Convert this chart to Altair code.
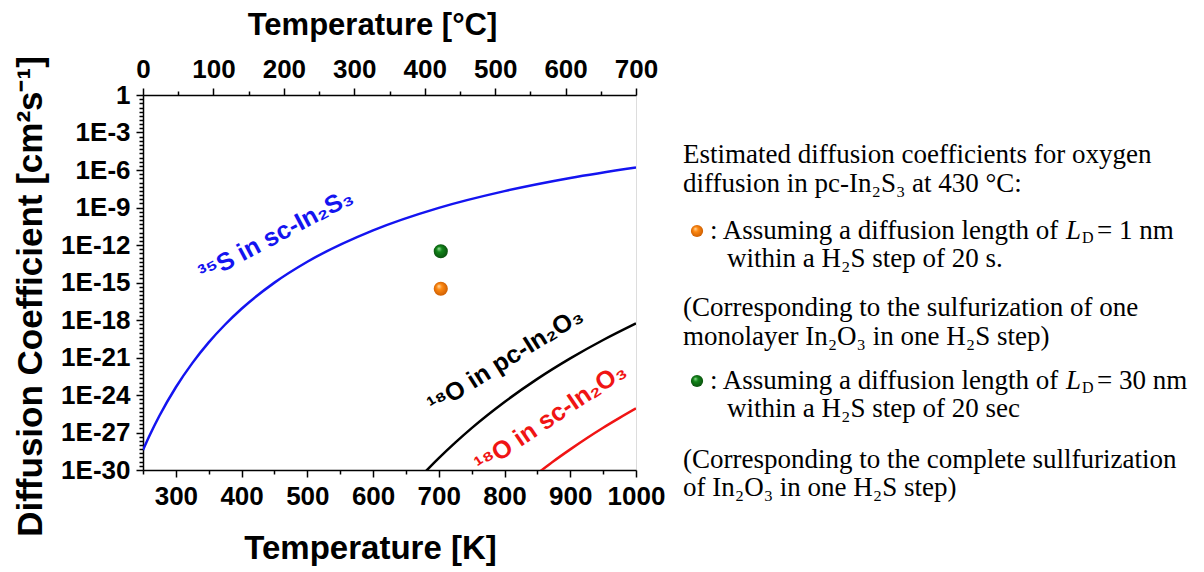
import altair as alt
import pandas as pd

# ---------------- data ----------------
blue_T = [250, 260, 275, 300, 325, 350, 375, 400, 450, 500, 600, 700, 800, 900, 1000]
blue_logD = [-28.40, -27.24, -25.66, -23.38, -21.45, -19.79, -18.36, -17.10, -15.01,
             -13.34, -10.83, -9.03, -7.69, -6.64, -5.80]

black_T = [675, 700, 725, 750, 800, 850, 900, 950, 1000]
black_logD = [-30.38, -29.05, -27.81, -26.65, -24.56, -22.71, -21.07, -19.60, -18.27]

red_T = [850, 875, 900, 925, 950, 975, 1000]
red_logD = [-30.28, -29.28, -28.35, -27.46, -26.62, -25.83, -25.07]

series_names = ["35S in sc-In2S3", "18O in pc-In2O3", "18O in sc-In2O3"]
series_colors = ["#1414f0", "#000000", "#f01414"]

point_T = [703, 703]
point_logD = [-12.5, -15.5]
point_names = ["LD = 30 nm", "LD = 1 nm"]

curve_labels = ["³⁵S in sc-In₂S₃", "¹⁸O in pc-In₂O₃", "¹⁸O in sc-In₂O₃"]
label_T = [452, 801, 870]
label_logD = [-11.2, -21.2, -25.8]
label_angles = [332, 328, 326]

K_ticks = list(range(250, 1001, 50))
C_ticks = list(range(0, 701, 50))          # top axis, spans the full plot width in the figure
C_range = [0, 700]
y_ticks = [10 ** (-k / 3) for k in range(0, 91)]

rows = []
for name, Ts, Ls in zip(series_names, [blue_T, black_T, red_T], [blue_logD, black_logD, red_logD]):
    for t, l in zip(Ts, Ls):
        rows.append({"T": t, "D": 10 ** l, "series": name})
curves = pd.DataFrame(rows)
points = pd.DataFrame({"T": point_T, "D": [10 ** v for v in point_logD], "name": point_names})
labels = pd.DataFrame({"T": label_T, "D": [10 ** v for v in label_logD], "text": curve_labels,
                       "series": series_names})

K_lo, K_hi = 250, 1000
# position of each Celsius tick on the shared x scale (the figure's top axis spans the same width)
C_pos = [K_lo + c * (K_hi - K_lo) / (C_range[1] - C_range[0]) for c in C_ticks]

SANS = "Liberation Sans"
SERIF = "Liberation Serif"

def sphere(c_light, c_main, c_dark):
    return alt.RadialGradient(gradient="radial", x1=0.35, y1=0.3, r1=0.0, x2=0.5, y2=0.5, r2=0.55,
                              stops=[alt.GradientStop(offset=0, color=c_light),
                                     alt.GradientStop(offset=0.35, color=c_main),
                                     alt.GradientStop(offset=1, color=c_dark)])

green_fill = sphere("#9fe39f", "#12861a", "#0a4d0d")
orange_fill = sphere("#ffe0b0", "#ff8a12", "#c95a00")

ylog = "log(datum.value)/LN10"
y_major = f"abs({ylog} - round({ylog})) < 0.01 && round({ylog}) % 3 == 0"
y_label = f"{y_major} ? (datum.value > 0.5 ? '1' : '1E' + round({ylog})) : ''"

cval = f"round((datum.value - {K_lo}) * {C_range[1] - C_range[0]} / {K_hi - K_lo})"
c_major = f"{cval} % 100 == 0"

axis_common = dict(domainColor="black", domainWidth=1.5, tickColor="black", tickWidth=1.5,
                   labelFont=SANS, labelFontWeight="bold", labelFontSize=26, labelColor="black",
                   titleFont=SANS, titleFontWeight="bold", titleColor="black",
                   labelOverlap=False, labelBound=False, grid=False, labelFlush=False)

x_scale = alt.Scale(domain=[K_lo, K_hi], nice=False, zero=False)
y_scale = alt.Scale(type="log", domain=[1e-30, 1], nice=False)

x_axis = alt.Axis(orient="bottom", values=K_ticks,
                  labelExpr="datum.value % 100 == 0 ? datum.value : ''",
                  tickSize={"condition": {"test": "datum.value % 100 == 0", "value": 7}, "value": 4},
                  labelPadding=6, title="Temperature [K]", titleFontSize=33,
                  titleX=227, titleY=78, titleBaseline="middle", titleAlign="center",
                  **axis_common)
x_top_axis = alt.Axis(orient="top", values=C_pos,
                      labelExpr=f"{c_major} ? {cval} : ''",
                      tickSize={"condition": {"test": c_major, "value": 7}, "value": 4},
                      labelPadding=6, title="Temperature [°C]", titleFontSize=31,
                      titleX=229, titleY=-70, titleBaseline="middle", titleAlign="center",
                      **axis_common)
y_axis = alt.Axis(orient="left", values=y_ticks, labelExpr=y_label,
                  tickSize={"condition": {"test": y_major, "value": 7}, "value": 4},
                  labelPadding=6, title="Diffusion Coefficient [cm²s⁻¹]", titleFontSize=35,
                  titleX=-113, titleY=201, titleBaseline="middle", titleAlign="center", titleAngle=270,
                  **axis_common)

color_scale = alt.Scale(domain=series_names, range=series_colors)

lines = alt.Chart(curves).mark_line(clip=True, strokeWidth=2.5, interpolate="monotone").encode(
    x=alt.X("T:Q", scale=x_scale, axis=x_axis),
    y=alt.Y("D:Q", scale=y_scale, axis=y_axis),
    color=alt.Color("series:N", scale=color_scale, legend=None),
    detail="series:N",
)

top_axis = alt.Chart(curves).mark_point(opacity=0).encode(
    x=alt.X("T:Q", scale=x_scale, axis=x_top_axis),
    y=alt.Y("D:Q", scale=y_scale),
)

green_pt = alt.Chart(points[points["name"] == "LD = 30 nm"]).mark_point(
    shape="circle", filled=True, size=200, fill=green_fill, opacity=1, strokeWidth=0).encode(
    x=alt.X("T:Q", scale=x_scale, axis=None), y=alt.Y("D:Q", scale=y_scale))
orange_pt = alt.Chart(points[points["name"] == "LD = 1 nm"]).mark_point(
    shape="circle", filled=True, size=200, fill=orange_fill, opacity=1, strokeWidth=0).encode(
    x=alt.X("T:Q", scale=x_scale, axis=None), y=alt.Y("D:Q", scale=y_scale))

label_layers = []
for i in range(3):
    label_layers.append(
        alt.Chart(labels.iloc[[i]]).mark_text(font=SANS, fontWeight="bold", fontSize=25,
                                              angle=label_angles[i], align="center", baseline="middle",
                                              color=series_colors[i]).encode(
            x=alt.X("T:Q", scale=x_scale, axis=None), y=alt.Y("D:Q", scale=y_scale),
            text="text:N"))

# ---------------- right-hand notes ----------------
OX, OY = 143, 95  # plot origin on page

def note(text, px, py, size=27, style="normal"):
    return alt.Chart(alt.Data(values=[{}])).mark_text(
        text=text, font=SERIF, fontSize=size, fontStyle=style, align="left", baseline="middle",
        color="black").encode(x=alt.value(px - OX), y=alt.value(py - OY))

def dot(px, py, fill):
    return alt.Chart(alt.Data(values=[{}])).mark_point(
        shape="circle", filled=True, size=150, fill=fill, opacity=1, strokeWidth=0).encode(
        x=alt.value(px - OX), y=alt.value(py - OY))

notes = [
    note("Estimated diffusion coefficients for oxygen", 683, 155),
    note("diffusion in pc-In₂S₃ at 430 °C:", 683, 184),
    dot(697, 231, orange_fill),
    note(": Assuming a diffusion length of", 710, 231),
    note("L", 1066, 231, style="italic"),
    note("D", 1082, 238, size=16),
    note("= 1 nm", 1097, 231),
    note("within a H₂S step of 20 s.", 727, 259),
    note("(Corresponding to the sulfurization of one", 683, 308),
    note("monolayer In₂O₃ in one H₂S step)", 683, 337),
    dot(697, 381, green_fill),
    note(": Assuming a diffusion length of", 710, 381),
    note("L", 1066, 381, style="italic"),
    note("D", 1082, 388, size=16),
    note("= 30 nm", 1097, 381),
    note("within a H₂S step of 20 sec", 727, 409),
    note("(Corresponding to the complete sullfurization", 683, 460),
    note("of In₂O₃ in one H₂S step)", 683, 488),
]

chart = alt.layer(lines, top_axis, green_pt, orange_pt, *label_layers, *notes).resolve_axis(
    x="independent").properties(
    width=493, height=375,
    autosize=alt.AutoSizeParams(type="none"),
    padding={"left": 135, "top": 87, "right": 552, "bottom": 98},
).configure_view(stroke="black", strokeWidth=1.5).configure(background="white")

chart.save("out.html", embed_options={"renderer": "svg", "actions": False})
